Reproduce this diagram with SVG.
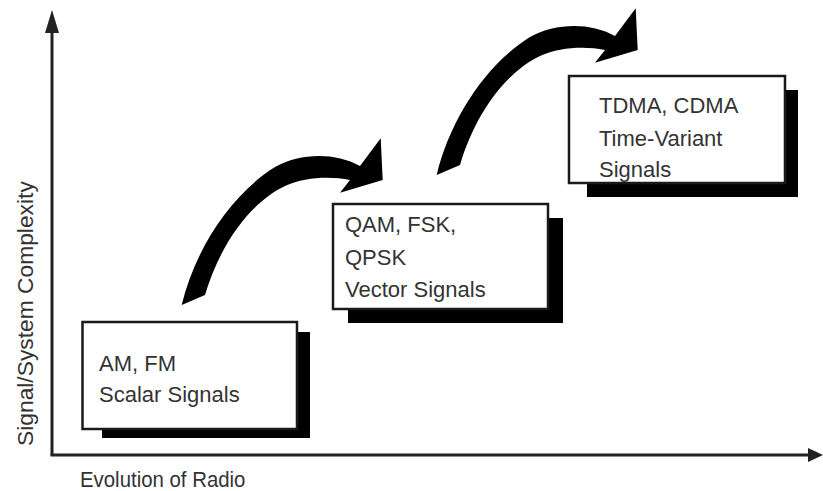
<svg xmlns="http://www.w3.org/2000/svg" width="823" height="491" viewBox="0 0 823 491">
<defs>
<style>
.box{fill:#fff;stroke:#1a1a1a;stroke-width:2.5}
.shadow{fill:#000}
.t{font-family:"Liberation Sans",Arial,sans-serif;font-size:22px;fill:#333}
.axis{stroke:#222;stroke-width:3;fill:none}
.ah{fill:#222}
.arc{fill:#000}
</style>
<path id="bigarrow" d="M181.7,305 C195,250 230,195 275,167 C300,153 335,152 360,166 L380.7,138.3 L382.7,180 L340,192.7 L350,180 C330,176 305,177 285,186 C255,200 222,238 205,295 Z"/>
</defs>
<rect width="823" height="491" fill="#fff"/>
<g id="axes">
<line class="axis" x1="52" y1="455" x2="52" y2="30"/>
<polygon class="ah" points="52,10 45,33 59,33"/>
<line class="axis" x1="50.5" y1="455" x2="812" y2="455"/>
<polygon class="ah" points="823,455 808,448 808,462"/>
<text class="t" transform="translate(33,446) rotate(-90)" style="font-size:22.8px">Signal/System Complexity</text>
<text class="t" transform="translate(80,487) scale(1,1.12)" style="font-size:20.4px">Evolution of Radio</text>
</g>
<g id="connectors">
<use href="#bigarrow" class="arc"/>
<use href="#bigarrow" class="arc" transform="translate(255,-130)"/>
</g>
<g id="node-am-fm">
<rect class="shadow" x="102" y="332" width="208" height="106"/>
<rect class="box" x="82.5" y="322" width="214.5" height="107"/>
<text class="t" x="99" y="371">AM, FM</text>
<text class="t" x="99" y="402">Scalar Signals</text>
</g>
<g id="node-qam">
<rect class="shadow" x="348" y="218" width="215" height="105"/>
<rect class="box" x="333" y="204" width="215" height="105"/>
<text class="t" x="345" y="232">QAM, FSK,</text>
<text class="t" x="345" y="265">QPSK</text>
<text class="t" x="345" y="297">Vector Signals</text>
</g>
<g id="node-tdma">
<rect class="shadow" x="587" y="90" width="211" height="107"/>
<rect class="box" x="569" y="76" width="216" height="107"/>
<text class="t" x="599" y="113">TDMA, CDMA</text>
<text class="t" x="599" y="146">Time-Variant</text>
<text class="t" x="599" y="177">Signals</text>
</g>
</svg>
